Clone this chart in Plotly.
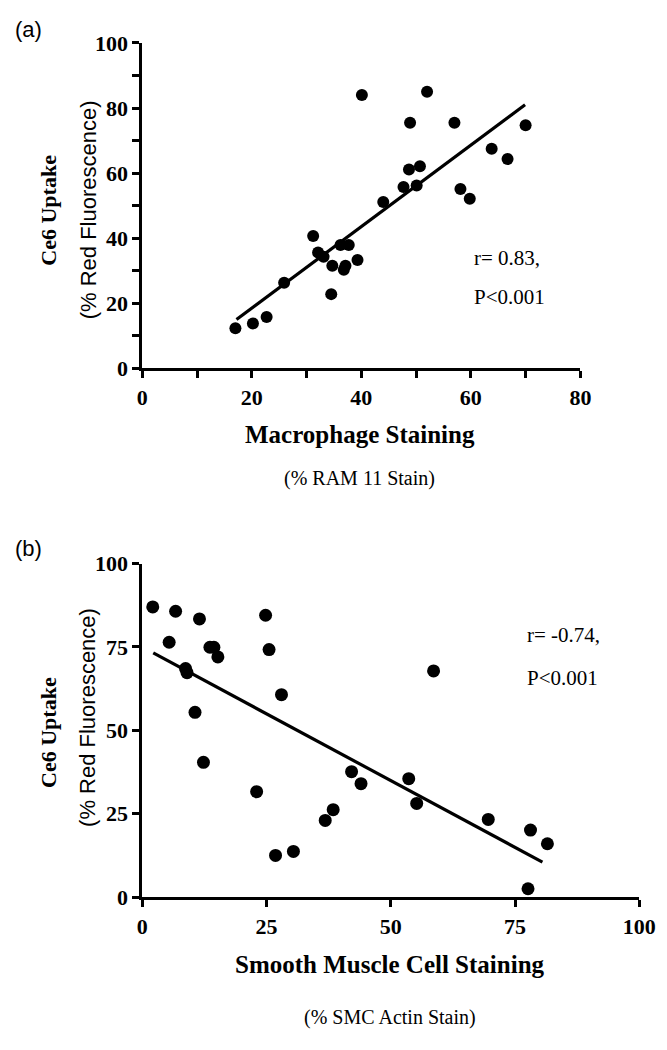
import plotly.graph_objects as go

W, H = 667, 1050

# ---- Panel (a): Macrophage staining vs Ce6 uptake ----
a_x = [17.0, 20.2, 22.7, 25.9, 31.2, 32.1, 33.1, 34.5, 34.7, 36.2, 37.7, 36.8, 37.1, 39.3,
       40.1, 44.0, 47.7, 48.7, 48.9, 50.1, 50.7, 52.0, 57.0, 63.8, 66.7, 70.0, 58.1, 59.8]
a_y = [12.3, 13.8, 15.8, 26.3, 40.7, 35.6, 34.3, 22.8, 31.5, 37.9, 37.9, 30.3, 31.5, 33.3,
       84.0, 51.1, 55.7, 61.1, 75.5, 56.2, 62.1, 85.0, 75.5, 67.5, 64.3, 74.7, 55.1, 52.1]
a_fit_x = [17.2, 69.9]
a_fit_y = [15.0, 81.0]
a_xticks = [0, 10, 20, 30, 40, 50, 60, 70, 80]
a_xticklabels = ["0", "", "20", "", "40", "", "60", "", "80"]
a_yticks = [0, 10, 20, 30, 40, 50, 60, 70, 80, 90, 100]
a_yticklabels = ["0", "", "20", "", "40", "", "60", "", "80", "", "100"]

# ---- Panel (b): SMC staining vs Ce6 uptake ----
b_x = [2.1, 6.7, 11.5, 5.4, 13.6, 14.4, 15.2, 8.7, 9.0, 10.6, 12.3, 24.8, 25.5, 28.0,
       23.0, 26.8, 30.4, 36.8, 38.4, 42.1, 44.0, 58.6, 53.6, 55.2, 69.6, 78.1, 81.5, 77.6]
b_y = [87.0, 85.7, 83.4, 76.4, 74.9, 74.9, 72.0, 68.5, 67.3, 55.4, 40.4, 84.5, 74.2, 60.7,
       31.6, 12.5, 13.7, 23.0, 26.2, 37.6, 34.0, 67.8, 35.5, 28.1, 23.3, 20.1, 16.0, 2.5]
b_fit_x = [2.2, 80.5]
b_fit_y = [73.2, 10.5]
b_xticks = [0, 25, 50, 75, 100]
b_yticks = [0, 25, 50, 75, 100]

SERIF = "Liberation Serif"
SANS = "Liberation Sans"


def px_x(p):
    return p / W


def px_y(p):
    return 1 - p / H


fig = go.Figure()
fig.add_trace(go.Scatter(x=a_x, y=a_y, mode="markers", marker=dict(color="black", size=12),
                         xaxis="x", yaxis="y", cliponaxis=False, showlegend=False))
fig.add_trace(go.Scatter(x=a_fit_x, y=a_fit_y, mode="lines", line=dict(color="black", width=3.2),
                         xaxis="x", yaxis="y", cliponaxis=False, showlegend=False))
fig.add_trace(go.Scatter(x=b_x, y=b_y, mode="markers", marker=dict(color="black", size=13),
                         xaxis="x2", yaxis="y2", cliponaxis=False, showlegend=False))
fig.add_trace(go.Scatter(x=b_fit_x, y=b_fit_y, mode="lines", line=dict(color="black", width=3.2),
                         xaxis="x2", yaxis="y2", cliponaxis=False, showlegend=False))

axis_common = dict(showgrid=False, zeroline=False, showline=True, linecolor="black", linewidth=3,
                   ticks="outside", ticklen=7, tickwidth=3, tickcolor="black",
                   tickfont=dict(family=SERIF, size=22, color="black", weight="bold"),
                   tickmode="array", fixedrange=True)

fig.update_layout(
    width=W, height=H, margin=dict(l=0, r=0, t=0, b=0),
    paper_bgcolor="white", plot_bgcolor="white",
    xaxis=dict(domain=[px_x(142), px_x(595)], range=[0, 80], anchor="y",
               tickvals=a_xticks, ticktext=a_xticklabels, **axis_common),
    yaxis=dict(domain=[px_y(365), px_y(31.7)], range=[0, 100], anchor="x",
               tickvals=a_yticks, ticktext=a_yticklabels, **axis_common),
    xaxis2=dict(domain=[px_x(142), px_x(656)], range=[0, 100], anchor="y2",
                tickvals=b_xticks, ticktext=[str(v) for v in b_xticks], **axis_common),
    yaxis2=dict(domain=[px_y(906.7), px_y(565)], range=[0, 100], anchor="x2",
                tickvals=b_yticks, ticktext=[str(v) for v in b_yticks], **axis_common),
)


def ann(text, x, y, size, family=SERIF, weight="normal", angle=0, xanchor="center"):
    fig.add_annotation(text=text, x=px_x(x), y=px_y(y), xref="paper", yref="paper",
                       showarrow=False, textangle=angle, xanchor=xanchor, yanchor="middle",
                       font=dict(family=family, size=size, color="black", weight=weight))


# panel (a) texts
ann("(a)", 24, 18, 22, family=SANS)
ann("Ce6 Uptake", 45, 203, 22, weight="bold", angle=-90)
ann("(% Red Fluorescence)", 86, 203, 22, family=SANS, angle=-90)
ann("Macrophage Staining", 367, 433, 25, weight="bold")
ann("(% RAM 11 Stain)", 367, 478, 20)
ann("r= 0.83,", 483, 252, 21, xanchor="left")
ann("P<0.001", 483, 292, 21, xanchor="left")

# panel (b) texts
ann("(b)", 24, 550, 22, family=SANS)
ann("Ce6 Uptake", 45, 738, 22, weight="bold", angle=-90)
ann("(% Red Fluorescence)", 86, 723, 22, family=SANS, angle=-90)
ann("Smooth Muscle Cell Staining", 398, 976, 25, weight="bold")
ann("(% SMC Actin Stain)", 398, 1030, 20)
ann("r= -0.74,", 538, 638, 21, xanchor="left")
ann("P<0.001", 538, 682, 21, xanchor="left")

fig.write_html("out.html", config={"displayModeBar": False},
               post_script="document.body.style.margin='0';document.body.style.padding='0';")
